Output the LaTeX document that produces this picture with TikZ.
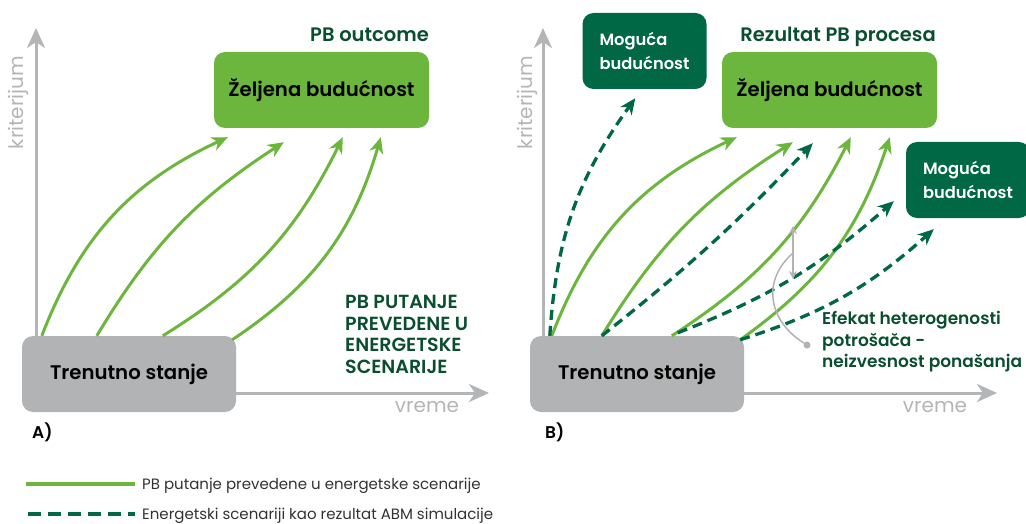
\documentclass[tikz,border=0pt]{standalone}
\usepackage{fontspec}
\setmainfont{Poppins}[BoldFont={Poppins SemiBold}]
\usetikzlibrary{arrows.meta,positioning}
\begin{document}
\begin{tikzpicture}[x=1pt,y=-1pt]
\definecolor{pbgreen}{RGB}{108,182,62}
\definecolor{abmgreen}{RGB}{0,104,69}
\definecolor{txtgreen}{RGB}{10,78,48}
\definecolor{nowgray}{RGB}{177,179,180}
\definecolor{axisgray}{RGB}{180,181,183}
\definecolor{hetgray}{RGB}{178,178,178}
\definecolor{legtext}{RGB}{50,50,50}
\tikzstyle{box}=[rounded corners=11pt,inner sep=0pt,font=\bfseries\fontsize{19.7}{23}\selectfont]
\tikzstyle{nowbox}=[box,fill=nowgray,minimum width=214pt,minimum height=76pt]
\tikzstyle{goalbox}=[box,fill=pbgreen,minimum width=215pt,minimum height=76pt]
\tikzstyle{altbox}=[box,fill=abmgreen,text=white,align=left,minimum width=124pt,minimum height=76pt,font=\bfseries\fontsize{16.3}{23.3}\selectfont]
\tikzstyle{axis}=[axisgray,line width=3pt,-{Stealth[length=20pt,width=18pt,inset=6pt]}]
\tikzstyle{axlabel}=[text=axisgray,inner sep=0pt,font=\fontsize{20}{22}\selectfont]
\tikzstyle{head}=[text=txtgreen,inner sep=0pt,font=\bfseries\fontsize{19.5}{21}\selectfont]
\tikzstyle{note}=[text=txtgreen,inner sep=0pt,align=left,font=\bfseries\fontsize{17}{21.6}\selectfont]
\tikzstyle{caps}=[note,font=\bfseries\fontsize{19}{21.7}\selectfont]
\tikzstyle{panel}=[inner sep=0pt,font=\bfseries\fontsize{17}{19}\selectfont]
\tikzstyle{pbpath}=[pbgreen,line width=3pt,-{Stealth[length=16pt,width=14pt,inset=5pt]}]
\tikzstyle{abmpath}=[abmgreen,line width=3.3pt,dash pattern=on 10pt off 6pt,-{Stealth[length=16pt,width=14pt,inset=5pt]}]
\tikzstyle{hetline}=[hetgray,line width=1.5pt]
\tikzstyle{legend}=[anchor=base west,inner sep=0pt,text=legtext,font=\fontsize{15}{17}\selectfont]
\useasboundingbox (0,0) rectangle (1026,524);
% panel A
\coordinate (oA) at (36,393);
\coordinate (yA) at (36,28);
\coordinate (xA) at (489,393);
\draw[axis] (oA) -- (yA);
\draw[axis] (oA) -- (xA);
\node[axlabel,rotate=90,anchor=base] (critA) at (23.5,102.5) {kriterijum};
\node[axlabel,anchor=base] (timeA) at (427,412) {vreme};
\node[nowbox] (nowA) at (129,374) {Trenutno stanje};
\node[goalbox] (goalA) at (321.5,90) {Željena budućnost};
\node[head,anchor=base east] (outA) at (429,41.5) {PB outcome};
\node[caps,anchor=north west] (pbA) at (345,295) {PB PUTANJE\\PREVEDENE U\\ENERGETSKE\\SCENARIJE};
\node[panel,anchor=base west] (labA) at (32,438) {A)};
\draw[pbpath] ([xshift=20pt]nowA.north west) to[bend left=22] ([xshift=14pt,yshift=-9pt]goalA.south west);
\draw[pbpath] ([xshift=75pt]nowA.north west) to[bend left=13] ([xshift=70pt,yshift=-14pt]goalA.south west);
\draw[pbpath] ([xshift=141pt]nowA.north west) to[bend right=16] ([xshift=129pt,yshift=-9pt]goalA.south west);
\draw[pbpath] ([xshift=-4pt,yshift=-4pt]nowA.north east) to[bend right=20] ([xshift=167pt,yshift=-9pt]goalA.south west);
% panel B
\coordinate (oB) at (543,393);
\coordinate (yB) at (543,28);
\coordinate (xB) at (997,393);
\draw[axis] (oB) -- (yB);
\draw[axis] (oB) -- (xB);
\node[axlabel,rotate=90,anchor=base] (critB) at (532.5,102.5) {kriterijum};
\node[axlabel,anchor=base] (timeB) at (935,412) {vreme};
\node[nowbox] (nowB) at (637,374) {Trenutno stanje};
\node[goalbox] (goalB) at (829.5,90) {Željena budućnost};
\node[altbox] (altT) at (644.5,51) {Moguća\\budućnost};
\node[altbox] (altR) at (968,180) {Moguća\\budućnost};
\node[head,anchor=base east] (outB) at (936,41.5) {Rezultat PB procesa};
\node[note,anchor=north west] (hetB) at (822,311) {Efekat heterogenosti\\potrošača -\\neizvesnost ponašanja};
\node[panel,anchor=base west] (labB) at (545,438) {B)};
\draw[pbpath] ([xshift=22pt]nowB.north west) to[bend left=22] ([xshift=15pt,yshift=-9pt]goalB.south west);
\draw[pbpath] ([xshift=72pt]nowB.north west) to[bend left=13] ([xshift=71pt,yshift=-14pt]goalB.south west);
\draw[pbpath] ([xshift=142pt]nowB.north west) to[bend right=15] ([xshift=129pt,yshift=-9pt]goalB.south west);
\draw[pbpath] ([xshift=-4pt,yshift=-4pt]nowB.north east) to[bend right=18] ([xshift=168pt,yshift=-9pt]goalB.south west);
\draw[abmpath] ([xshift=20pt]nowB.north west) to[bend left=16] ([xshift=53pt,yshift=-9pt]altT.south west);
\draw[abmpath] ([xshift=72pt]nowB.north west) to[bend right=4] ([xshift=91pt,yshift=-15pt]goalB.south west);
\draw[abmpath] ([xshift=148pt,yshift=3pt]nowB.north west) to[bend right=10] ([xshift=-12pt,yshift=17pt]altR.south west);
\draw[abmpath] ([xshift=-4pt,yshift=-4pt]nowB.north east) to[bend right=12] ([xshift=28pt,yshift=-11pt]altR.south west);
% heterogeneity marker
\coordinate (hetT) at (793,226);
\coordinate (hetM) at (793,253);
\coordinate (hetD) at (793,279);
\draw[hetline,{Stealth[length=8pt,width=8pt]}-{Stealth[length=8pt,width=8pt]}] (hetT) -- (hetD);
\node[circle,fill=hetgray,inner sep=0pt,minimum size=7pt] (hetdot) at (807,345) {};
\draw[hetline] (hetdot) .. controls (770,322) and (760,282) .. (hetM);
% legend
\coordinate (l1s) at (26,484);
\coordinate (l1e) at (135,484);
\coordinate (l2s) at (28,514);
\coordinate (l2e) at (135,514);
\draw[pbgreen,line width=3.5pt] (l1s) -- (l1e);
\draw[abmgreen,line width=4pt,dash pattern=on 13pt off 7pt] (l2s) -- (l2e);
\node[legend] (leg1) at (142,489) {PB putanje prevedene u energetske scenarije};
\node[legend] (leg2) at (142,519) {Energetski scenariji kao rezultat ABM simulacije};
\end{tikzpicture}
\end{document}
